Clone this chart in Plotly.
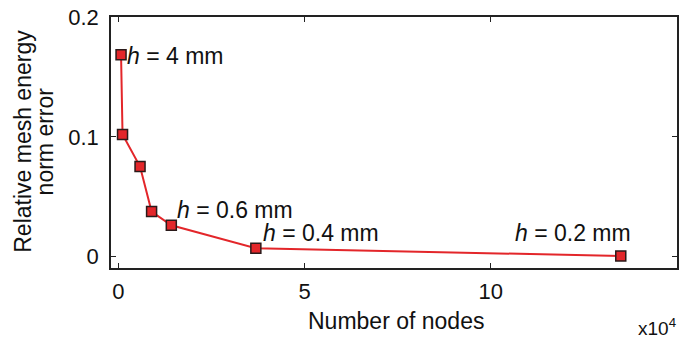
import plotly.graph_objects as go

nodes = [700, 1100, 5800, 8900, 14200, 36900, 134900]
error = [0.1685, 0.102, 0.0752, 0.0376, 0.0262, 0.007, 0.0005]

x_tick_vals = [0, 50000, 100000, 150000]
x_tick_text = ["0", "5", "10", "15"]
y_tick_vals = [0, 0.1, 0.2]
y_tick_text = ["0", "0.1", "0.2"]

labels = ["<i>h</i> = 4 mm", "<i>h</i> = 0.6 mm", "<i>h</i> = 0.4 mm", "<i>h</i> = 0.2 mm"]
label_x = [2400, 15850, 38700, 106500]
label_y = [0.1675, 0.0385, 0.0200, 0.0200]

FONT = "Liberation Sans, Arial, sans-serif"

fig = go.Figure()
fig.add_trace(go.Scatter(
    x=nodes, y=error, mode="lines+markers",
    line=dict(color="#e3262a", width=2),
    marker=dict(symbol="square", size=10, color="#e3262a",
                line=dict(color="#2a1a1a", width=1.5)),
    showlegend=False,
))

for t, xx, yy in zip(labels, label_x, label_y):
    fig.add_annotation(x=xx, y=yy, text=t, showarrow=False, xanchor="left",
                       yanchor="middle", xshift=-2, font=dict(size=23, color="#111"))

# axis titles and exponent
fig.add_annotation(xref="paper", yref="paper", x=0.504, y=-0.211, text="Number of nodes",
                   showarrow=False, xanchor="center", yanchor="middle",
                   font=dict(size=23, color="#111"))
fig.add_annotation(xref="paper", yref="paper", x=-0.155, y=0.504, text="Relative mesh energy",
                   showarrow=False, xanchor="center", yanchor="middle", textangle=-90,
                   font=dict(size=23, color="#111"))
fig.add_annotation(xref="paper", yref="paper", x=-0.115, y=0.504, text="norm error",
                   showarrow=False, xanchor="center", yanchor="middle", textangle=-90,
                   font=dict(size=23, color="#111"))
fig.add_annotation(xref="paper", yref="paper", x=0.965, y=-0.235, text="x10<sup>4</sup>",
                   showarrow=False, xanchor="center", yanchor="middle",
                   font=dict(size=19, color="#111"))

axis_common = dict(
    showgrid=False, zeroline=False, showline=True, linecolor="#222", linewidth=1.5,
    mirror="allticks", ticks="inside", ticklen=5, tickcolor="#222", tickwidth=1.2,
    tickfont=dict(size=22, color="#111"), automargin=False,
)

fig.update_xaxes(range=[-2000, 150000], tickvals=x_tick_vals, ticktext=x_tick_text,
                 ticklabelstandoff=3, **axis_common)
fig.update_yaxes(range=[-0.0095, 0.2], tickvals=y_tick_vals, ticktext=y_tick_text,
                 ticklabelstandoff=6, **axis_common)

fig.update_layout(
    width=684, height=338,
    margin=dict(l=111, r=7, t=17, b=70),
    paper_bgcolor="white", plot_bgcolor="white",
    font=dict(family=FONT, color="#111"),
)

fig.write_html("out.html", config={"displayModeBar": False},
               post_script="document.body.style.margin='0';document.body.style.overflow='hidden';")
